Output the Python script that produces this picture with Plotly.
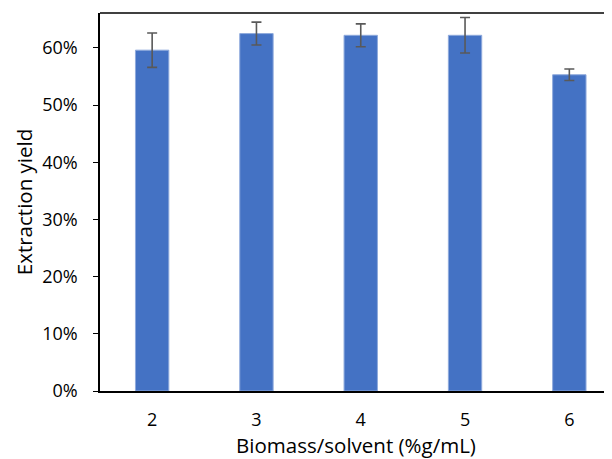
import plotly.graph_objects as go

categories = ["2", "3", "4", "5", "6"]
yield_values = [0.596, 0.625, 0.622, 0.622, 0.553]
yield_errors = [0.030, 0.020, 0.020, 0.031, 0.010]

FONT = "Open Sans"

fig = go.Figure()
fig.add_trace(go.Bar(
    x=categories,
    y=yield_values,
    width=0.32,
    marker=dict(color="#4472C4", line=dict(color="#8faadc", width=1)),
    error_y=dict(type="data", array=yield_errors, visible=True,
                 color="#595959", thickness=1.6, width=5),
))

fig.update_layout(
    width=604, height=451,
    margin=dict(l=92, r=0, t=5, b=68),
    paper_bgcolor="white", plot_bgcolor="white",
    showlegend=False,
    font=dict(family=FONT, color="#000000"),
    shapes=[dict(type="line", xref="paper", yref="paper", x0=0, x1=1, y0=1, y1=1,
                 line=dict(color="black", width=1.5))],
)
fig.update_xaxes(
    type="category",
    range=[-0.5, 4.409],
    showline=True, linecolor="black", linewidth=1.5,
    ticks="outside", ticklen=12, tickcolor="rgba(0,0,0,0)", showgrid=False,
    tickfont=dict(size=18, family=FONT, color="#000000"),
    title=dict(text="Biomass/solvent (%g/mL)", font=dict(size=20.5, family=FONT, color="#000000"), standoff=5),
)
fig.update_yaxes(
    range=[0, 0.661],
    dtick=0.1, tickformat=".0%",
    showline=True, linecolor="black", linewidth=1.5,
    ticks="outside", ticklen=5, tickcolor="black", tickwidth=1,
    ticklabelstandoff=12,
    showgrid=False, zeroline=False,
    tickfont=dict(size=18, family=FONT, color="#000000"),
    title=dict(text="Extraction yield", font=dict(size=20.5, family=FONT, color="#000000"), standoff=4),
)

fig.write_html("out.html")
